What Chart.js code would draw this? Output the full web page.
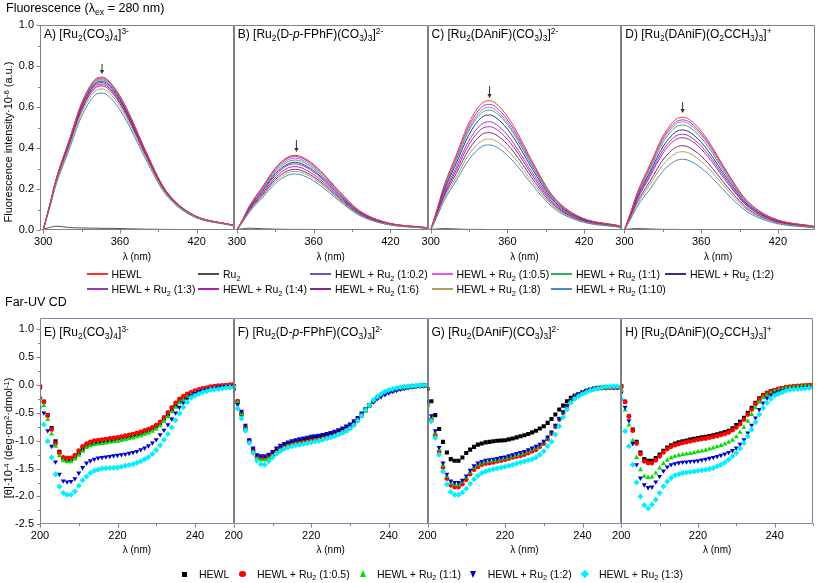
<!DOCTYPE html>
<html><head><meta charset="utf-8">
<script src="https://cdn.jsdelivr.net/npm/chart.js@4"></script>
<style>
html,body{margin:0;padding:0;background:#fff;overflow:hidden;}
#wrap{position:relative;width:817px;height:583px;overflow:hidden;font-family:"Liberation Sans",Arial,sans-serif;color:#000;}
canvas{position:absolute;left:0;top:0;}
.t{position:absolute;white-space:nowrap;line-height:1;z-index:5;}
.t sub,.t sup{font-size:70%;line-height:0;position:relative;vertical-align:baseline;}
.t sub{top:0.32em}.t sup{top:-0.45em}
.rot{transform:translate(-50%,-50%) rotate(-90deg);}
.mk{position:absolute;z-index:5;}
</style></head>
<body><div id="wrap"></div>
<script>
// ---------------- Fluorescence data (lambda_ex = 280 nm), intensity x 1e-6 ----------------
const FL_X = [300, 305, 310, 320, 330, 340, 346, 355, 365, 380, 395, 415, 449];
const FL_NAMES = ['HEWL','Ru2','HEWL + Ru2 (1:0.2)','HEWL + Ru2 (1:0.5)','HEWL + Ru2 (1:1)','HEWL + Ru2 (1:2)','HEWL + Ru2 (1:3)','HEWL + Ru2 (1:4)','HEWL + Ru2 (1:6)','HEWL + Ru2 (1:8)','HEWL + Ru2 (1:10)'];
const FL_COLORS = ['#ff3030','#505050','#5a5ad0','#f050f0','#30b060','#303098','#9a3cb0','#b020b0','#7a2a80','#b0a060','#4a88c0'];
const FL_XTICKS = [300, 360, 420];
const FL_XMINOR = [330, 390];
const FL_YTICKS = [0, 0.2, 0.4, 0.6, 0.8, 1.0];
const FL_YMINOR = [0.1, 0.3, 0.5, 0.7, 0.9];

const A_HEWL = [0, 0.119, 0.246, 0.433, 0.619, 0.731, 0.746, 0.701, 0.597, 0.388, 0.201, 0.082, 0.022];
const A_RU   = [0.004, 0.012, 0.019, 0.012, 0.010, 0.009, 0.008, 0.008, 0.006, 0.004, 0.003, 0.002, 0.001];
const A_R02  = [0, 0.119, 0.245, 0.430, 0.616, 0.727, 0.742, 0.697, 0.594, 0.386, 0.200, 0.082, 0.022];
const A_R05  = [0, 0.118, 0.244, 0.428, 0.613, 0.723, 0.738, 0.694, 0.590, 0.384, 0.199, 0.081, 0.022];
const A_R1   = [0, 0.117, 0.242, 0.425, 0.608, 0.718, 0.733, 0.689, 0.586, 0.381, 0.198, 0.081, 0.022];
const A_R2   = [0, 0.116, 0.240, 0.421, 0.603, 0.711, 0.726, 0.682, 0.581, 0.378, 0.196, 0.080, 0.022];
const A_R3   = [0, 0.115, 0.237, 0.417, 0.597, 0.705, 0.719, 0.676, 0.575, 0.374, 0.194, 0.079, 0.022];
const A_R4   = [0, 0.114, 0.235, 0.413, 0.591, 0.698, 0.712, 0.669, 0.570, 0.370, 0.192, 0.078, 0.021];
const A_R6   = [0, 0.112, 0.232, 0.408, 0.583, 0.689, 0.703, 0.661, 0.562, 0.366, 0.190, 0.077, 0.021];
const A_R8   = [0, 0.110, 0.227, 0.399, 0.571, 0.674, 0.688, 0.647, 0.550, 0.358, 0.186, 0.076, 0.021];
const A_R10  = [0, 0.107, 0.220, 0.387, 0.554, 0.655, 0.668, 0.628, 0.534, 0.347, 0.180, 0.073, 0.020];

const B_HEWL = [0, 0.058, 0.120, 0.211, 0.302, 0.357, 0.364, 0.342, 0.291, 0.189, 0.098, 0.040, 0.011];
const B_RU   = [0.003, 0.006, 0.009, 0.006, 0.004, 0.003, 0.003, 0.003, 0.002, 0.002, 0.001, 0.001, 0.001];
const B_R02  = [0, 0.057, 0.118, 0.208, 0.297, 0.351, 0.358, 0.337, 0.286, 0.186, 0.097, 0.039, 0.011];
const B_R05  = [0, 0.056, 0.116, 0.203, 0.291, 0.343, 0.350, 0.329, 0.280, 0.182, 0.095, 0.039, 0.011];
const B_R1   = [0, 0.055, 0.113, 0.198, 0.283, 0.334, 0.341, 0.321, 0.273, 0.177, 0.092, 0.038, 0.010];
const B_R2   = [0, 0.053, 0.109, 0.191, 0.274, 0.323, 0.330, 0.310, 0.264, 0.172, 0.089, 0.036, 0.010];
const B_R3   = [0, 0.052, 0.106, 0.187, 0.267, 0.316, 0.322, 0.303, 0.258, 0.167, 0.087, 0.035, 0.010];
const B_R4   = [0, 0.049, 0.102, 0.179, 0.256, 0.303, 0.309, 0.290, 0.247, 0.161, 0.083, 0.034, 0.009];
const B_R6   = [0, 0.047, 0.098, 0.172, 0.246, 0.290, 0.296, 0.278, 0.237, 0.154, 0.080, 0.033, 0.009];
const B_R8   = [0, 0.046, 0.094, 0.166, 0.237, 0.280, 0.286, 0.269, 0.229, 0.149, 0.077, 0.031, 0.009];
const B_R10  = [0, 0.044, 0.090, 0.158, 0.227, 0.268, 0.273, 0.257, 0.218, 0.142, 0.074, 0.030, 0.008];

const C_HEWL = [0, 0.101, 0.208, 0.366, 0.524, 0.618, 0.631, 0.593, 0.505, 0.328, 0.170, 0.069, 0.019];
const C_RU   = [0.003, 0.005, 0.007, 0.005, 0.003, 0.003, 0.002, 0.002, 0.002, 0.001, 0.001, 0.001, 0.001];
const C_R02  = [0, 0.098, 0.202, 0.356, 0.509, 0.601, 0.613, 0.576, 0.490, 0.319, 0.166, 0.067, 0.018];
const C_R05  = [0, 0.096, 0.197, 0.347, 0.496, 0.586, 0.598, 0.562, 0.478, 0.311, 0.161, 0.066, 0.018];
const C_R1   = [0, 0.094, 0.193, 0.339, 0.486, 0.573, 0.585, 0.550, 0.468, 0.304, 0.158, 0.064, 0.018];
const C_R2   = [0, 0.090, 0.185, 0.325, 0.466, 0.550, 0.561, 0.527, 0.449, 0.292, 0.151, 0.062, 0.017];
const C_R3   = [0, 0.084, 0.174, 0.306, 0.438, 0.517, 0.528, 0.496, 0.422, 0.275, 0.143, 0.058, 0.016];
const C_R4   = [0, 0.081, 0.166, 0.292, 0.418, 0.494, 0.504, 0.474, 0.403, 0.262, 0.136, 0.055, 0.015];
const C_R6   = [0, 0.076, 0.157, 0.276, 0.394, 0.466, 0.475, 0.447, 0.380, 0.247, 0.128, 0.052, 0.014];
const C_R8   = [0, 0.071, 0.147, 0.258, 0.369, 0.435, 0.444, 0.417, 0.355, 0.231, 0.120, 0.049, 0.013];
const C_R10  = [0, 0.066, 0.137, 0.241, 0.344, 0.407, 0.415, 0.390, 0.332, 0.216, 0.112, 0.046, 0.012];

const D_HEWL = [0, 0.088, 0.182, 0.319, 0.457, 0.539, 0.550, 0.517, 0.440, 0.286, 0.149, 0.061, 0.017];
const D_RU   = [0.003, 0.005, 0.007, 0.005, 0.003, 0.003, 0.002, 0.002, 0.002, 0.001, 0.001, 0.001, 0.001];
const D_R02  = [0, 0.086, 0.177, 0.311, 0.446, 0.526, 0.537, 0.505, 0.430, 0.279, 0.145, 0.059, 0.016];
const D_R05  = [0, 0.084, 0.174, 0.306, 0.437, 0.516, 0.527, 0.495, 0.422, 0.274, 0.142, 0.058, 0.016];
const D_R1   = [0, 0.082, 0.169, 0.297, 0.425, 0.502, 0.512, 0.481, 0.410, 0.266, 0.138, 0.056, 0.015];
const D_R2   = [0, 0.078, 0.161, 0.283, 0.405, 0.478, 0.488, 0.459, 0.390, 0.254, 0.132, 0.054, 0.015];
const D_R3   = [0, 0.075, 0.154, 0.271, 0.388, 0.458, 0.467, 0.439, 0.374, 0.243, 0.126, 0.051, 0.014];
const D_R4   = [0, 0.072, 0.149, 0.261, 0.374, 0.441, 0.450, 0.423, 0.360, 0.234, 0.122, 0.050, 0.014];
const D_R6   = [0, 0.066, 0.136, 0.238, 0.341, 0.403, 0.411, 0.386, 0.329, 0.214, 0.111, 0.045, 0.012];
const D_R8   = [0, 0.061, 0.126, 0.222, 0.317, 0.374, 0.382, 0.359, 0.306, 0.199, 0.103, 0.042, 0.011];
const D_R10  = [0, 0.055, 0.114, 0.200, 0.286, 0.338, 0.345, 0.324, 0.276, 0.179, 0.093, 0.038, 0.010];

// arrows marking the quenching direction (x in nm, y from/to)
const ARROW_X   = [346, 346.5, 346, 345.5];
const ARROW_TOP = [0.810, 0.439, 0.702, 0.624];
const ARROW_TIP = [0.761, 0.380, 0.644, 0.571];

// ---------------- Far-UV CD data, [theta] x 1e-4 ----------------
const CD_X = [200,201,202,203,204,205,206,207,208,209,210,211,212,213,214,215,216,217,218,219,220,221,222,223,224,225,226,227,228,229,230,231,232,233,234,235,236,237,238,239,240,241,242,243,244,245,246,247,248,249,250];
const CD_NAMES = ['HEWL','HEWL + Ru2 (1:0.5)','HEWL + Ru2 (1:1)','HEWL + Ru2 (1:2)','HEWL + Ru2 (1:3)'];
const CD_COLORS = ['#000000','#ff0000','#00e000','#0000d0','#00f0ff'];
const CD_XTICKS = [200, 220, 240];
const CD_XMINOR = [210, 230, 250];
const CD_YTICKS = [-2.5, -2.0, -1.5, -1.0, -0.5, 0.0, 0.5, 1.0];
const CD_YMINOR = [-2.25, -1.75, -1.25, -0.75, -0.25, 0.25, 0.75];

const E_HEWL = [-0.04,-0.30,-0.54,-0.77,-1.01,-1.20,-1.31,-1.34,-1.33,-1.28, -1.22,-1.15,-1.09,-1.05,-1.04,-1.02,-1.01,-1.00,-0.99,-0.975, -0.96,-0.945,-0.93,-0.915,-0.90,-0.88,-0.86,-0.835,-0.81,-0.78, -0.74,-0.68,-0.60,-0.53,-0.44,-0.37,-0.29,-0.23,-0.19,-0.15, -0.12,-0.10,-0.08,-0.065,-0.05,-0.04,-0.03,-0.025,-0.02,-0.015, -0.01];
const E_R05  = [-0.02,-0.30,-0.55,-0.80,-1.05,-1.22,-1.30,-1.31,-1.31,-1.26, -1.18,-1.10,-1.05,-1.02,-1.00,-0.99,-0.98,-0.97,-0.96,-0.95, -0.94,-0.925,-0.91,-0.895,-0.88,-0.86,-0.84,-0.815,-0.79,-0.76, -0.72,-0.66,-0.58,-0.49,-0.40,-0.32,-0.25,-0.20,-0.16,-0.13, -0.10,-0.08,-0.06,-0.045,-0.03,-0.02,-0.01,-0.005,0.0,0.005, 0.01];
const E_R1   = [-0.20,-0.37,-0.62,-0.88,-1.10,-1.27,-1.36,-1.38,-1.38,-1.33, -1.26,-1.19,-1.12,-1.09,-1.07,-1.06,-1.05,-1.04,-1.03,-1.02, -1.01,-0.995,-0.98,-0.965,-0.95,-0.93,-0.91,-0.885,-0.86,-0.83, -0.79,-0.73,-0.65,-0.57,-0.48,-0.40,-0.32,-0.27,-0.22,-0.18, -0.15,-0.12,-0.10,-0.085,-0.07,-0.06,-0.05,-0.04,-0.03,-0.025, -0.02];
const E_R2   = [-0.25,-0.50,-0.82,-1.10,-1.38,-1.60,-1.72,-1.74,-1.73,-1.68, -1.58,-1.48,-1.40,-1.36,-1.33,-1.31,-1.30,-1.29,-1.28,-1.27, -1.26,-1.25,-1.24,-1.225,-1.21,-1.19,-1.16,-1.13,-1.09,-1.04, -0.98,-0.89,-0.81,-0.71,-0.61,-0.50,-0.40,-0.32,-0.25,-0.19, -0.15,-0.12,-0.10,-0.085,-0.07,-0.055,-0.04,-0.035,-0.03,-0.025, -0.02];
const E_R3   = [-0.40,-0.71,-1.01,-1.30,-1.60,-1.82,-1.94,-1.97,-1.97,-1.91, -1.81,-1.71,-1.64,-1.58,-1.54,-1.52,-1.50,-1.495,-1.49,-1.485, -1.48,-1.465,-1.45,-1.435,-1.42,-1.395,-1.37,-1.33,-1.29,-1.24, -1.17,-1.08,-0.98,-0.88,-0.76,-0.63,-0.51,-0.40,-0.31,-0.23, -0.19,-0.16,-0.13,-0.11,-0.09,-0.08,-0.07,-0.06,-0.05,-0.045, -0.04];

const F_HEWL = [-0.02,-0.30,-0.53,-0.77,-1.01,-1.17,-1.28,-1.31,-1.31,-1.29, -1.24,-1.18,-1.13,-1.09,-1.06,-1.04,-1.02,-1.00,-0.98,-0.965, -0.95,-0.94,-0.925,-0.91,-0.895,-0.88,-0.86,-0.835,-0.81,-0.78, -0.74,-0.68,-0.61,-0.53,-0.44,-0.36,-0.29,-0.23,-0.18,-0.15, -0.12,-0.10,-0.08,-0.065,-0.05,-0.04,-0.03,-0.02,-0.015,-0.01, -0.005];
const F_R05  = [-0.03,-0.29,-0.50,-0.75,-1.00,-1.18,-1.29,-1.32,-1.32,-1.30, -1.26,-1.21,-1.16,-1.12,-1.09,-1.07,-1.05,-1.04,-1.03,-1.015, -1.00,-0.99,-0.975,-0.96,-0.945,-0.925,-0.905,-0.88,-0.85,-0.815, -0.77,-0.71,-0.63,-0.55,-0.46,-0.37,-0.29,-0.23,-0.18,-0.14, -0.11,-0.09,-0.07,-0.055,-0.04,-0.03,-0.02,-0.015,-0.01,-0.005, 0.0];
const F_R1   = [-0.05,-0.31,-0.52,-0.77,-1.02,-1.20,-1.31,-1.34,-1.34,-1.32, -1.27,-1.22,-1.17,-1.13,-1.10,-1.08,-1.06,-1.05,-1.04,-1.025, -1.01,-1.00,-0.985,-0.97,-0.955,-0.935,-0.915,-0.89,-0.86,-0.825, -0.78,-0.72,-0.64,-0.56,-0.47,-0.38,-0.30,-0.24,-0.19,-0.15, -0.12,-0.095,-0.075,-0.06,-0.045,-0.035,-0.025,-0.02,-0.015,-0.01, -0.005];
const F_R2   = [-0.10,-0.35,-0.47,-0.72,-0.98,-1.13,-1.25,-1.27,-1.27,-1.24, -1.19,-1.13,-1.08,-1.05,-1.02,-1.00,-0.98,-0.965,-0.95,-0.935, -0.92,-0.91,-0.90,-0.885,-0.87,-0.85,-0.83,-0.80,-0.77,-0.735, -0.70,-0.64,-0.58,-0.50,-0.43,-0.36,-0.30,-0.25,-0.21,-0.17, -0.14,-0.115,-0.095,-0.075,-0.06,-0.045,-0.035,-0.025,-0.02,-0.015, -0.01];
const F_R3   = [-0.03,-0.42,-0.60,-0.82,-1.04,-1.22,-1.36,-1.42,-1.43,-1.37, -1.30,-1.24,-1.19,-1.15,-1.12,-1.10,-1.08,-1.07,-1.06,-1.045, -1.03,-1.015,-1.00,-0.98,-0.96,-0.94,-0.92,-0.89,-0.86,-0.82, -0.78,-0.72,-0.64,-0.55,-0.45,-0.36,-0.27,-0.21,-0.16,-0.12, -0.09,-0.07,-0.055,-0.04,-0.03,-0.02,-0.015,-0.01,-0.005,0.0, 0.005];

const G_HEWL = [-0.07,-0.29,-0.54,-0.79,-1.02,-1.21,-1.33,-1.36,-1.36,-1.30, -1.22,-1.16,-1.11,-1.07,-1.05,-1.03,-1.02,-1.01,-1.00,-0.995, -0.99,-0.975,-0.96,-0.94,-0.92,-0.90,-0.88,-0.85,-0.82,-0.78, -0.74,-0.68,-0.61,-0.53,-0.44,-0.37,-0.29,-0.23,-0.19,-0.16, -0.13,-0.105,-0.08,-0.065,-0.05,-0.045,-0.04,-0.035,-0.03,-0.035, -0.04];
const G_R05  = [-0.35,-0.62,-0.90,-1.20,-1.48,-1.68,-1.80,-1.83,-1.83,-1.78, -1.70,-1.60,-1.52,-1.47,-1.43,-1.41,-1.40,-1.39,-1.37,-1.355, -1.34,-1.32,-1.30,-1.285,-1.27,-1.25,-1.22,-1.19,-1.16,-1.11, -1.05,-0.97,-0.87,-0.75,-0.62,-0.50,-0.38,-0.28,-0.21,-0.17, -0.14,-0.11,-0.09,-0.07,-0.06,-0.055,-0.05,-0.05,-0.05,-0.05, -0.05];
const G_R1   = [-0.32,-0.58,-0.86,-1.16,-1.44,-1.64,-1.76,-1.79,-1.79,-1.74, -1.66,-1.56,-1.48,-1.43,-1.40,-1.38,-1.37,-1.36,-1.345,-1.33, -1.315,-1.295,-1.275,-1.26,-1.24,-1.22,-1.19,-1.16,-1.13,-1.085, -1.03,-0.95,-0.855,-0.735,-0.61,-0.49,-0.375,-0.275,-0.205,-0.165, -0.135,-0.105,-0.085,-0.07,-0.06,-0.05,-0.045,-0.04,-0.04,-0.04, -0.04];
const G_R2   = [-0.30,-0.55,-0.82,-1.12,-1.40,-1.60,-1.72,-1.75,-1.75,-1.71, -1.63,-1.53,-1.45,-1.40,-1.37,-1.35,-1.34,-1.33,-1.32,-1.30, -1.29,-1.27,-1.25,-1.23,-1.21,-1.19,-1.16,-1.13,-1.10,-1.06, -1.01,-0.93,-0.84,-0.72,-0.60,-0.48,-0.37,-0.27,-0.20,-0.16, -0.13,-0.10,-0.08,-0.065,-0.055,-0.05,-0.045,-0.04,-0.04,-0.04, -0.04];
const G_R3   = [-0.38,-0.65,-0.95,-1.25,-1.55,-1.78,-1.92,-1.97,-1.97,-1.93, -1.86,-1.77,-1.69,-1.63,-1.58,-1.55,-1.53,-1.51,-1.495,-1.48, -1.465,-1.45,-1.43,-1.41,-1.39,-1.37,-1.35,-1.33,-1.30,-1.25, -1.19,-1.10,-1.02,-0.89,-0.74,-0.58,-0.44,-0.32,-0.25,-0.20, -0.16,-0.13,-0.10,-0.08,-0.06,-0.045,-0.03,-0.025,-0.02,-0.02, -0.02];

const H_HEWL = [-0.02,-0.30,-0.56,-0.80,-1.02,-1.21,-1.33,-1.36,-1.36,-1.31, -1.25,-1.18,-1.12,-1.08,-1.05,-1.03,-1.01,-0.995,-0.98,-0.965, -0.95,-0.94,-0.93,-0.915,-0.90,-0.885,-0.865,-0.845,-0.82,-0.775, -0.72,-0.66,-0.59,-0.50,-0.41,-0.32,-0.24,-0.18,-0.14,-0.11, -0.09,-0.07,-0.055,-0.045,-0.035,-0.03,-0.025,-0.02,-0.015,-0.01, -0.01];
const H_R05  = [-0.03,-0.30,-0.56,-0.82,-1.05,-1.24,-1.37,-1.40,-1.40,-1.35, -1.28,-1.21,-1.15,-1.11,-1.08,-1.06,-1.04,-1.025,-1.01,-0.995, -0.98,-0.97,-0.96,-0.945,-0.93,-0.915,-0.895,-0.875,-0.85,-0.81, -0.76,-0.70,-0.62,-0.53,-0.44,-0.34,-0.26,-0.19,-0.15,-0.12, -0.09,-0.07,-0.055,-0.04,-0.03,-0.02,-0.015,-0.01,-0.005,0.0, 0.0];
const H_R1   = [-0.08,-0.45,-0.72,-1.00,-1.30,-1.52,-1.64,-1.66,-1.65,-1.58, -1.49,-1.41,-1.35,-1.31,-1.28,-1.26,-1.25,-1.24,-1.23,-1.215, -1.20,-1.185,-1.17,-1.15,-1.13,-1.11,-1.085,-1.06,-1.03,-0.99, -0.93,-0.85,-0.76,-0.65,-0.53,-0.41,-0.31,-0.23,-0.18,-0.14, -0.11,-0.09,-0.07,-0.055,-0.045,-0.035,-0.03,-0.025,-0.02,-0.015, -0.01];
const H_R2   = [-0.14,-0.40,-0.64,-1.05,-1.43,-1.67,-1.79,-1.84,-1.83,-1.74, -1.64,-1.54,-1.47,-1.43,-1.41,-1.395,-1.385,-1.38,-1.37,-1.365, -1.36,-1.345,-1.33,-1.315,-1.30,-1.28,-1.26,-1.235,-1.21,-1.175, -1.13,-1.06,-0.98,-0.86,-0.72,-0.59,-0.44,-0.32,-0.23,-0.18, -0.14,-0.12,-0.10,-0.085,-0.07,-0.06,-0.055,-0.05,-0.045,-0.04, -0.04];
const H_R3   = [-0.25,-0.83,-1.10,-1.43,-1.75,-2.00,-2.16,-2.21,-2.15,-2.06, -1.94,-1.82,-1.73,-1.67,-1.62,-1.60,-1.58,-1.57,-1.56,-1.55, -1.54,-1.53,-1.52,-1.505,-1.49,-1.46,-1.43,-1.39,-1.34,-1.28, -1.22,-1.14,-1.04,-0.92,-0.80,-0.67,-0.53,-0.41,-0.32,-0.25, -0.19,-0.16,-0.13,-0.10,-0.08,-0.075,-0.07,-0.065,-0.06,-0.055, -0.05];

const FL_LABELS = ['A) [Ru<sub>2</sub>(CO<sub>3</sub>)<sub>4</sub>]<sup>3-</sup>',
  'B) [Ru<sub>2</sub>(D-<i>p</i>-FPhF)(CO<sub>3</sub>)<sub>3</sub>]<sup>2-</sup>',
  'C) [Ru<sub>2</sub>(DAniF)(CO<sub>3</sub>)<sub>3</sub>]<sup>2-</sup>',
  'D) [Ru<sub>2</sub>(DAniF)(O<sub>2</sub>CCH<sub>3</sub>)<sub>3</sub>]<sup>+</sup>'];
const CD_LABELS = ['E) [Ru<sub>2</sub>(CO<sub>3</sub>)<sub>4</sub>]<sup>3-</sup>',
  'F) [Ru<sub>2</sub>(D-<i>p</i>-FPhF)(CO<sub>3</sub>)<sub>3</sub>]<sup>2-</sup>',
  'G) [Ru<sub>2</sub>(DAniF)(CO<sub>3</sub>)<sub>3</sub>]<sup>2-</sup>',
  'H) [Ru<sub>2</sub>(DAniF)(O<sub>2</sub>CCH<sub>3</sub>)<sub>3</sub>]<sup>+</sup>'];

// ---------------- build ----------------
const FL_PANELS = [
  [A_HEWL, A_RU, A_R02, A_R05, A_R1, A_R2, A_R3, A_R4, A_R6, A_R8, A_R10],
  [B_HEWL, B_RU, B_R02, B_R05, B_R1, B_R2, B_R3, B_R4, B_R6, B_R8, B_R10],
  [C_HEWL, C_RU, C_R02, C_R05, C_R1, C_R2, C_R3, C_R4, C_R6, C_R8, C_R10],
  [D_HEWL, D_RU, D_R02, D_R05, D_R1, D_R2, D_R3, D_R4, D_R6, D_R8, D_R10]];
const CD_PANELS = [
  [E_HEWL, E_R05, E_R1, E_R2, E_R3],
  [F_HEWL, F_R05, F_R1, F_R2, F_R3],
  [G_HEWL, G_R05, G_R1, G_R2, G_R3],
  [H_HEWL, H_R05, H_R1, H_R2, H_R3]];

const W = 817, H = 583;
const FONT = '"Liberation Sans", Arial, sans-serif';
Chart.defaults.font.family = FONT;
const EDGES = [40, 233.75, 427.5, 621.25, 815];
const wrap = document.getElementById('wrap');

const framePlugin = {
  id: 'frame',
  afterDraw(chart, args, o) {
    const {ctx, chartArea: a, scales: {x, y}} = chart;
    const L = Math.round(a.left) + 0.5, R = Math.round(a.right) - 0.5;
    const T = Math.round(a.top) + 0.5, B = Math.round(a.bottom) - 0.5;
    ctx.save();
    ctx.lineWidth = 1;
    ctx.strokeStyle = o.color;
    ctx.beginPath();
    ctx.moveTo(L, T); ctx.lineTo(L, B); ctx.moveTo(R, T); ctx.lineTo(R, B);
    ctx.stroke();
    ctx.strokeStyle = o.hColor;
    ctx.beginPath();
    ctx.moveTo(L, T); ctx.lineTo(R, T); ctx.moveTo(L, B); ctx.lineTo(R, B);
    ctx.stroke();
    ctx.strokeStyle = o.color;
    ctx.beginPath();
    o.xMajor.forEach(v => { const p = Math.round(x.getPixelForValue(v)) + 0.5; ctx.moveTo(p, B); ctx.lineTo(p, B + 4); });
    o.xMinor.forEach(v => { const p = Math.round(x.getPixelForValue(v)) + 0.5; if (p > L && p <= R + 1) { ctx.moveTo(p, B); ctx.lineTo(p, B + 2.5); } });
    if (o.showY) {
      o.yMajor.forEach(v => { const p = Math.round(y.getPixelForValue(v)) + 0.5; ctx.moveTo(L, p); ctx.lineTo(L - 4, p); });
      o.yMinor.forEach(v => { const p = Math.round(y.getPixelForValue(v)) + 0.5; ctx.moveTo(L, p); ctx.lineTo(L - 2.5, p); });
    }
    ctx.stroke();
    if (o.arrow) {
      const ax = x.getPixelForValue(o.arrow.x), y1 = y.getPixelForValue(o.arrow.top), y2 = y.getPixelForValue(o.arrow.tip);
      ctx.strokeStyle = '#333'; ctx.fillStyle = '#333';
      ctx.beginPath(); ctx.moveTo(ax, y1); ctx.lineTo(ax, y2 - 3); ctx.stroke();
      ctx.beginPath(); ctx.moveTo(ax - 2.2, y2 - 4); ctx.lineTo(ax + 2.2, y2 - 4); ctx.lineTo(ax, y2); ctx.closePath(); ctx.fill();
    }
    ctx.restore();
  }
};

function makePanel(i, o) {
  const cv = document.createElement('canvas');
  cv.width = W; cv.height = H;
  cv.style.width = W + 'px'; cv.style.height = H + 'px';
  wrap.appendChild(cv);
  const left = EDGES[i], right = EDGES[i + 1];
  const showY = i === 0;
  const yScale = {
    type: 'linear', min: o.ymin, max: o.ymax, display: showY,
    grid: { display: false, drawTicks: false }, border: { display: false },
    afterBuildTicks: s => { s.ticks = o.yMajor.map(v => ({ value: v })); },
    ticks: { padding: 6, color: '#000', font: { size: 11 }, callback: v => v.toFixed(1) }
  };
  if (showY) yScale.afterFit = s => { s.width = left; };
  new Chart(cv, {
    type: 'line',
    data: { datasets: o.datasets },
    options: {
      responsive: false, animation: false, devicePixelRatio: 1,
      events: [],
      layout: { padding: { left: showY ? 0 : left, right: W - right, top: o.top, bottom: H - o.bottom - o.xh } },
      plugins: {
        legend: { display: false }, tooltip: { enabled: false },
        frame: { color: '#808080', hColor: o.hColor, xMajor: o.xMajor, xMinor: o.xMinor, yMajor: o.yMajor, yMinor: o.yMinor, showY, arrow: o.arrow }
      },
      scales: {
        x: {
          type: 'linear', min: o.xmin, max: o.xmax,
          grid: { display: false, drawTicks: false }, border: { display: false },
          afterBuildTicks: s => { s.ticks = o.xMajor.map(v => ({ value: v })); },
          afterFit: s => { s.height = o.xh; },
          ticks: { padding: o.xpad, autoSkip: false, maxRotation: 0, color: '#000', font: { size: 11 }, callback: v => String(v) },
          title: { display: true, text: 'λ (nm)', color: '#000', font: { size: 10 }, padding: { top: 0, bottom: 0 } }
        },
        y: yScale
      }
    },
    plugins: [framePlugin]
  });
}

// Fluorescence panels
FL_PANELS.forEach((series, i) => {
  const datasets = series.map((arr, k) => ({
    data: FL_X.map((x, j) => ({ x, y: arr[j] })),
    borderColor: FL_COLORS[k], borderWidth: 1, pointRadius: 0, fill: false,
    cubicInterpolationMode: 'monotone', order: k === 0 ? 0 : 12 - k
  }));
  makePanel(i, {
    datasets, xmin: 297.5, xmax: 449, ymin: 0, ymax: 1.0, top: 25, bottom: 230, xh: 33, xpad: 5,
    xMajor: FL_XTICKS, xMinor: FL_XMINOR, yMajor: FL_YTICKS, yMinor: FL_YMINOR, hColor: '#808080',
    arrow: { x: ARROW_X[i], top: ARROW_TOP[i], tip: ARROW_TIP[i] }
  });
});

// CD panels
const CD_STYLE = [
  { pointStyle: 'rect', pointRadius: 2.9, pointRotation: 0 },
  { pointStyle: 'circle', pointRadius: 2.4, pointRotation: 0 },
  { pointStyle: 'triangle', pointRadius: 2.9, pointRotation: 0 },
  { pointStyle: 'triangle', pointRadius: 2.9, pointRotation: 180 },
  { pointStyle: 'rectRot', pointRadius: 3.0, pointRotation: 0 }];
CD_PANELS.forEach((series, i) => {
  const datasets = series.map((arr, k) => Object.assign({
    data: CD_X.map((x, j) => ({ x, y: arr[j] })),
    showLine: false, borderWidth: 0, pointBorderWidth: 0,
    pointBackgroundColor: CD_COLORS[k], borderColor: CD_COLORS[k], order: 5 - k
  }, CD_STYLE[k]));
  makePanel(i, {
    datasets, xmin: 200, xmax: 250, ymin: -2.5, ymax: 1.2, top: 318.2, bottom: 524.3, xh: 32, xpad: 5,
    xMajor: CD_XTICKS, xMinor: CD_XMINOR, yMajor: CD_YTICKS, yMinor: CD_YMINOR, hColor: '#8484b8'
  });
});

// ---------------- text overlays ----------------
function txt(html, left, top, size, cls) {
  const d = document.createElement('div');
  d.className = 't' + (cls ? ' ' + cls : '');
  d.style.left = left + 'px'; d.style.top = top + 'px'; d.style.fontSize = size + 'px';
  d.innerHTML = html;
  wrap.appendChild(d);
  return d;
}
const sub2 = s => s.replace('Ru2', 'Ru<sub>2</sub>');

txt('Fluorescence (λ<sub>ex</sub> = 280 nm)', 6, 2, 12.5);
txt('Far-UV CD', 5, 295.5, 12.5);
txt('Fluorescence intensity·10<sup>-6</sup> (a.u.)', 8, 142, 11, 'rot');
txt('[θ]·10<sup>-4</sup> (deg·cm<sup>2</sup>·dmol<sup>-1</sup>)', 8, 438, 11, 'rot');

FL_LABELS.forEach((h, i) => txt(h, EDGES[i] + 4, 28, 12));
CD_LABELS.forEach((h, i) => txt(h, EDGES[i] + 4, 326, 12));

// fluorescence legend
const LEG_COLX = [86.5, 198, 310, 431.5, 551, 665];
const LEG_ROWY = [274.3, 289.3];
FL_NAMES.forEach((n, k) => {
  const col = k % 6, row = Math.floor(k / 6);
  const x = LEG_COLX[col], y = LEG_ROWY[row];
  const ln = document.createElement('div');
  ln.className = 'mk';
  Object.assign(ln.style, { left: x + 'px', top: (y - 1) + 'px', width: '21px', height: '2px', background: FL_COLORS[k] });
  wrap.appendChild(ln);
  txt(sub2(n), x + 25, y - 5.1, 10.5);
});

// CD legend
const CDL_MX = [184.6, 242.7, 363.5, 474, 584.6];
const CDL_TX = [199, 257, 377, 487.7, 599];
const CDL_Y = 574;
CD_NAMES.forEach((n, k) => {
  const m = document.createElement('div');
  m.className = 'mk';
  const cx = CDL_MX[k], c = CD_COLORS[k];
  if (k === 0) Object.assign(m.style, { left: (cx - 2.5) + 'px', top: (CDL_Y - 2.5) + 'px', width: '5px', height: '5px', background: c });
  if (k === 1) Object.assign(m.style, { left: (cx - 3.3) + 'px', top: (CDL_Y - 3.3) + 'px', width: '6.6px', height: '6.6px', borderRadius: '50%', background: c });
  if (k === 2) Object.assign(m.style, { left: (cx - 3.8) + 'px', top: (CDL_Y - 3.8) + 'px', width: 0, height: 0, borderLeft: '3.8px solid transparent', borderRight: '3.8px solid transparent', borderBottom: '7px solid ' + c });
  if (k === 3) Object.assign(m.style, { left: (cx - 3.8) + 'px', top: (CDL_Y - 3.2) + 'px', width: 0, height: 0, borderLeft: '3.8px solid transparent', borderRight: '3.8px solid transparent', borderTop: '7px solid ' + c });
  if (k === 4) Object.assign(m.style, { left: (cx - 2.8) + 'px', top: (CDL_Y - 2.8) + 'px', width: '5.6px', height: '5.6px', background: c, transform: 'rotate(45deg)' });
  wrap.appendChild(m);
  txt(sub2(n), CDL_TX[k], CDL_Y - 5.1, 10.5);
});
</script>
</body></html>
